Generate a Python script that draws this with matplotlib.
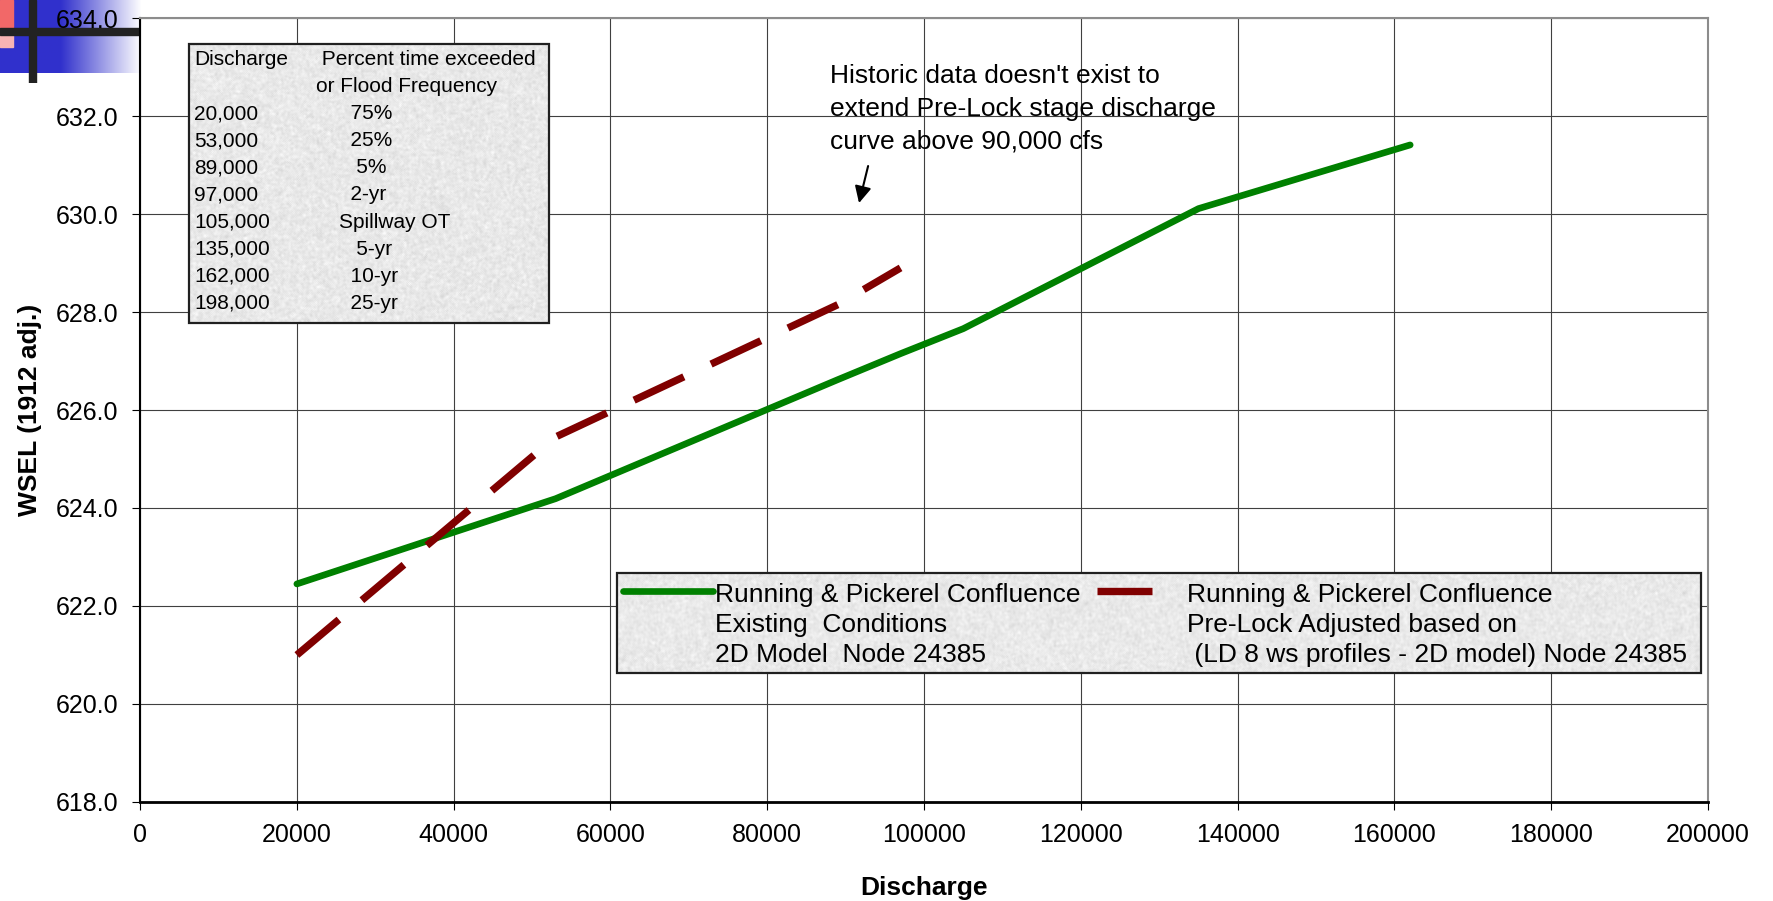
import numpy as np
import matplotlib
matplotlib.use("Agg")
import matplotlib.pyplot as plt
from matplotlib.lines import Line2D
from matplotlib.patches import Rectangle
from matplotlib.ticker import MultipleLocator, FuncFormatter

plt.rcParams["font.family"] = ["Liberation Sans", "DejaVu Sans"]

# Running & Pickerel confluence, existing conditions (2D model node 24385)
existing_q = [20000, 53000, 89000, 97000, 105000, 135000, 162000]
existing_wsel = [622.45, 624.19, 626.62, 627.15, 627.66, 630.11, 631.41]

# pre-lock curve adjusted from LD 8 ws profiles - 2D model
prelock_q = [20000, 53000, 89000, 97000]
prelock_wsel = [621.0, 625.45, 628.15, 628.9]

# discharge / exceedance table
table_q = ["20,000", "53,000", "89,000", "97,000",
           "105,000", "135,000", "162,000", "198,000"]
table_freq = ["      75%", "      25%", "       5%", "      2-yr",
              "    Spillway OT", "       5-yr", "      10-yr", "      25-yr"]

legend_existing = ["Running & Pickerel Confluence",
                   "Existing  Conditions",
                   "2D Model  Node 24385"]
legend_prelock = ["Running & Pickerel Confluence",
                  "Pre-Lock Adjusted based on",
                  " (LD 8 ws profiles - 2D model) Node 24385"]
note_lines = ["Historic data doesn't exist to",
              "extend Pre-Lock stage discharge",
              "curve above 90,000 cfs"]

GREEN = "#008000"
DARK_RED = "#800000"
GREEN_LW = 4.8
RED_LW = 5.3
RED_DASH = (39.6 / RED_LW, 21.6 / RED_LW)  # 55 px on, 30 px off


def granite(h, w, seed):
    """Light speckled grey fill used behind the text boxes."""
    rng = np.random.default_rng(seed)
    n = rng.normal(0.0, 1.0, (h, w))
    for _ in range(2):
        n = (n + np.roll(n, 1, 0) + np.roll(n, -1, 0)
             + np.roll(n, 1, 1) + np.roll(n, -1, 1)) / 5.0
    n = (n - n.min()) / (n.max() - n.min())
    g = 0.84 + 0.15 * n
    return np.dstack([g, g, g])


def textured_box(ax, x0, y0, x1, y1, px_w, px_h, seed):
    ax.imshow(granite(px_h, px_w, seed), extent=[x0, x1, y0, y1],
              transform=ax.transAxes, aspect="auto", zorder=5,
              interpolation="bilinear")
    ax.add_patch(Rectangle((x0, y0), x1 - x0, y1 - y0, transform=ax.transAxes,
                           fill=False, ec="#202020", lw=1.6, zorder=6))


fig = plt.figure(figsize=(17.73, 9.01), dpi=100)
ax = fig.add_axes([0.0790, 0.1099, 0.8844, 0.8701])

# slide template mark in the upper-left corner
logo = fig.add_axes([0.0, 0.9079, 0.0790, 0.0921], zorder=-1)
grad = np.ones((1, 140, 3))
blue = np.array([0.19, 0.19, 0.80])
fade = np.clip((np.arange(140) - 60) / 80.0, 0, 1)
grad[0] = blue[None, :] * (1 - fade[:, None]) + fade[:, None]
logo.imshow(grad, extent=[0, 140, 73, 0], aspect="auto")
logo.add_patch(Rectangle((0, 0), 13, 27, color="#f26868"))
logo.add_patch(Rectangle((0, 35), 13, 12, color="#f8b4b4"))
logo.add_patch(Rectangle((0, 28), 139, 7, color="#222222"))
logo.add_patch(Rectangle((29, 0), 7, 83, color="#222222"))
logo.set_xlim(0, 140)
logo.set_ylim(83, 0)
logo.axis("off")

# curves
ax.plot(existing_q, existing_wsel, color=GREEN, lw=GREEN_LW,
        solid_joinstyle="round", solid_capstyle="round", zorder=4)
ax.plot(prelock_q, prelock_wsel, color=DARK_RED, lw=RED_LW,
        dashes=RED_DASH, dash_capstyle="butt", zorder=4)

ax.set_xlim(0, 200000)
ax.set_ylim(618, 634)
ax.xaxis.set_major_locator(MultipleLocator(20000))
ax.yaxis.set_major_locator(MultipleLocator(2))
ax.xaxis.set_major_formatter(FuncFormatter(lambda v, p: f"{v:.0f}"))
ax.yaxis.set_major_formatter(FuncFormatter(lambda v, p: f"{v:.1f}"))
ax.grid(True, color="#404040", lw=0.8)
ax.set_axisbelow(True)
ax.tick_params(direction="out", length=5.8, width=0.8, labelsize=18)
ax.tick_params(axis="x", pad=9.4)
ax.tick_params(axis="y", pad=10)
for side in ("top", "right"):
    ax.spines[side].set_color("#8c8c8c")
    ax.spines[side].set_linewidth(1.5)
ax.spines["left"].set_linewidth(1.5)
ax.spines["bottom"].set_linewidth(2.0)

ax.set_xlabel("Discharge", fontsize=19, fontweight="bold")
ax.set_ylabel("WSEL (1912 adj.)", fontsize=19, fontweight="bold")
ax.xaxis.set_label_coords(0.5, -0.094)
ax.yaxis.set_label_coords(-0.0625, 0.5)

# discharge / flood frequency table
textured_box(ax, 0.0313, 0.611, 0.2608, 0.9668, 360, 279, seed=3)
row_y0, row_dy = 0.9401, 0.03457
ax.text(0.0344, row_y0, "Discharge", transform=ax.transAxes,
        fontsize=15, va="baseline", zorder=7)
ax.text(0.1122, row_y0, " Percent time exceeded", transform=ax.transAxes,
        fontsize=15, va="baseline", zorder=7)
ax.text(0.1122, row_y0 - row_dy, "or Flood Frequency", transform=ax.transAxes,
        fontsize=15, va="baseline", zorder=7)
for i, (q, f) in enumerate(zip(table_q, table_freq)):
    y = row_y0 - (i + 2) * row_dy
    ax.text(0.0344, y, q, transform=ax.transAxes, fontsize=15,
            va="baseline", zorder=7)
    ax.text(0.1122, y, f, transform=ax.transAxes, fontsize=15,
            va="baseline", zorder=7)

# legend drawn as a box with two entries side by side
textured_box(ax, 0.3042, 0.1645, 0.9955, 0.2921, 1084, 100, seed=7)
ax.add_line(Line2D([0.3080, 0.3654], [0.2691, 0.2691], transform=ax.transAxes,
                   color=GREEN, lw=GREEN_LW, solid_capstyle="round", zorder=7))
ax.add_line(Line2D([0.6103, 0.6645], [0.2691, 0.2691], transform=ax.transAxes,
                   color=DARK_RED, lw=RED_LW, dashes=RED_DASH, zorder=7))
leg_y0, leg_dy = 0.2551, 0.0383
for i, (a, b) in enumerate(zip(legend_existing, legend_prelock)):
    ax.text(0.3667, leg_y0 - i * leg_dy, a, transform=ax.transAxes,
            fontsize=19, va="baseline", zorder=7)
    ax.text(0.6677, leg_y0 - i * leg_dy, b, transform=ax.transAxes,
            fontsize=19, va="baseline", zorder=7)

# note about the missing historic data
for i, line in enumerate(note_lines):
    ax.text(0.4401, 0.9171 - i * 0.04145, line, transform=ax.transAxes,
            fontsize=19, va="baseline", zorder=7)
ax.annotate("", xy=(0.4585, 0.7640), xytext=(0.4643, 0.8112),
            xycoords="axes fraction", textcoords="axes fraction",
            arrowprops=dict(arrowstyle="-|>", color="black", lw=1.5,
                            mutation_scale=25, shrinkA=0, shrinkB=0),
            zorder=7)

ax.set_xlim(0, 200000)
ax.set_ylim(618, 634)

fig.savefig("out.png", dpi=100)
